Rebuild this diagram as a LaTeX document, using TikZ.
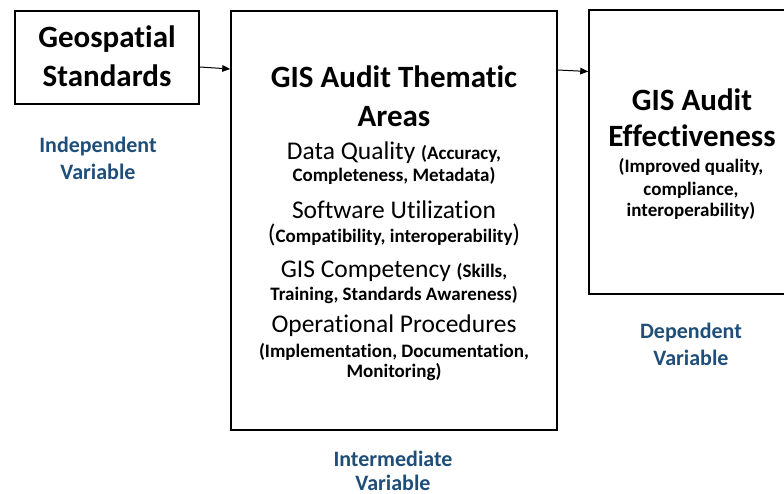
\documentclass[tikz,border=0pt]{standalone}
\usepackage{fontspec}
\setmainfont{Carlito}[Ligatures=NoCommon]
\usetikzlibrary{arrows.meta}

\definecolor{varblue}{HTML}{1F4E79}
\newcommand\itemsize{\fontsize{25.5}{30}\selectfont}
\newcommand\detailsize{\fontsize{19}{23}\selectfont\bfseries}

\tikzset{
  box/.style={draw, line width=1.5pt, inner sep=0pt},
  head/.style={font=\fontsize{31}{38}\selectfont\bfseries, anchor=base},
  entry/.style={font=\itemsize, anchor=base},
  detail/.style={font=\detailsize, anchor=base},
  varlabel/.style={font=\fontsize{22}{27}\selectfont\bfseries, text=varblue, anchor=base},
  link/.style={-{Triangle[length=8pt,width=6.5pt]}, line width=1pt}
}

\begin{document}
\begin{tikzpicture}[x=1pt,y=-1pt]
  \path[use as bounding box, clip] (0,0) rectangle (784,494);

  % the three boxes
  \node[box, minimum width=184pt, minimum height=93pt] (geo) at (107,57.5) {};
  \node[box, minimum width=326pt, minimum height=419pt] (thematic) at (394,220.5) {};
  \node[box, minimum width=206pt, minimum height=284pt] (effect) at (692,152) {};

  % independent variable
  \node[head] (geo1) at (107,48) {Geospatial};
  \node[head] (geo2) at (107,87) {Standards};
  \node[varlabel] (ind1) at (98,153) {Independent};
  \node[varlabel] (ind2) at (98,180) {Variable};

  % intermediate variable
  \node[head] (th1) at (394,88) {GIS Audit Thematic};
  \node[head] (th2) at (394,127) {Areas};
  \node[entry] (th3) at (394,160) {Data Quality {\detailsize (Accuracy,}};
  \node[detail] (th4) at (394,182) {Completeness, Metadata)};
  \node[entry] (th5) at (394,219) {Software Utilization};
  \node[entry] (th6) at (394,243) {({\detailsize Compatibility, interoperability})};
  \node[entry] (th7) at (394,277) {GIS Competency {\detailsize (Skills,}};
  \node[detail] (th8) at (394,300) {Training, Standards Awareness)};
  \node[entry] (th9) at (394,332) {Operational Procedures};
  \node[detail] (th10) at (394,357) {(Implementation, Documentation,};
  \node[detail] (th11) at (394,377) {Monitoring)};
  \node[varlabel] (mid1) at (393,466) {Intermediate};
  \node[varlabel] (mid2) at (393,490) {Variable};

  % dependent variable
  \node[head] (ef1) at (692,111) {GIS Audit};
  \node[head] (ef2) at (692,147) {Effectiveness};
  \node[detail] (ef3) at (691,173) {(Improved quality,};
  \node[detail] (ef4) at (691,196) {compliance,};
  \node[detail] (ef5) at (691,217) {interoperability)};
  \node[varlabel] (dep1) at (691,338) {Dependent};
  \node[varlabel] (dep2) at (691,365) {Variable};

  % links
  \draw[link] (geo.east |- 0,67) -- (thematic.west |- 0,69);
  \draw[link] (thematic.east |- 0,70) -- (effect.west |- 0,71.5);
\end{tikzpicture}
\end{document}
